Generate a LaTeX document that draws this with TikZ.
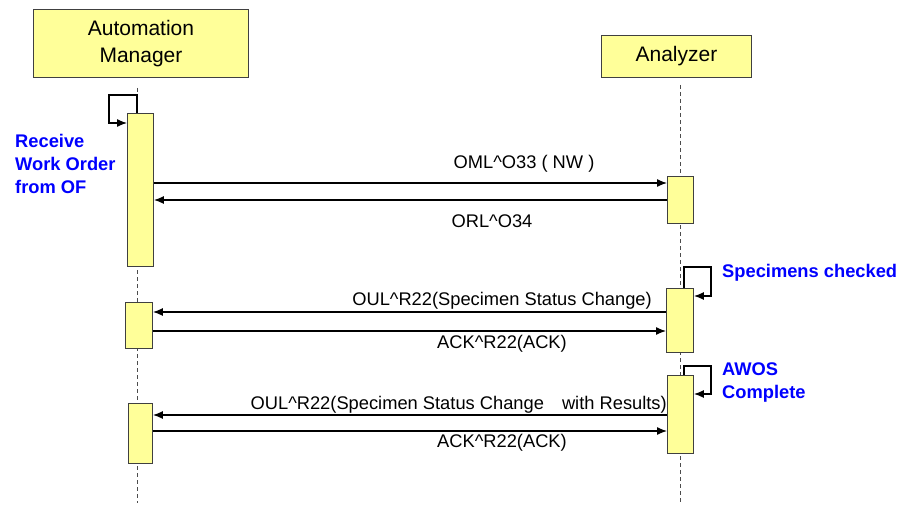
\documentclass[tikz,border=0pt]{standalone}
\usepackage{fontspec}
\setmainfont{Liberation Sans}
\usetikzlibrary{arrows.meta}
\definecolor{barfill}{HTML}{FFFF99}
\definecolor{barline}{HTML}{404040}
\definecolor{notecol}{HTML}{0000FF}
\begin{document}
\begin{tikzpicture}[x=1pt,y=-1pt,
  actor/.style={draw=barline,fill=barfill,line width=0.9pt,inner sep=0pt,anchor=north west,
    font=\fontsize{21}{27}\selectfont,align=center},
  bar/.style={draw=barline,fill=barfill,line width=0.9pt,inner sep=0pt,anchor=north west},
  lifeline/.style={draw=black!70,line width=0.8pt,dash pattern=on 4pt off 3pt},
  msg/.style={line width=1.3pt,-{Latex[length=10pt,width=8pt]}},
  msgtext/.style={font=\fontsize{18.3}{20}\selectfont,inner sep=0pt},
  note/.style={font=\fontsize{18.3}{23}\selectfont\bfseries,text=notecol,align=left,
    inner sep=0pt,anchor=west}]
\useasboundingbox (0,0) rectangle (901,508);

% participants
\node[actor,minimum width=215pt,minimum height=68pt] (am) at (33,9) {Automation\\Manager};
\node[actor,minimum width=150pt,minimum height=42pt] (an) at (601,35) {Analyzer};

% lifelines
\coordinate (amL) at (137,88);
\coordinate (amE) at (137,503);
\coordinate (anL) at (680,85);
\coordinate (anE) at (680,503);
\draw[lifeline] (amL) -- (amE);
\draw[lifeline] (anL) -- (anE);

% activation bars
\node[bar,minimum width=26pt,minimum height=153pt] (am1) at (127,113) {};
\node[bar,minimum width=27pt,minimum height=46pt] (am2) at (125,302) {};
\node[bar,minimum width=24pt,minimum height=60pt] (am3) at (128,403) {};
\node[bar,minimum width=26pt,minimum height=47pt] (an1) at (667,176) {};
\node[bar,minimum width=27pt,minimum height=64pt] (an2) at (666,288) {};
\node[bar,minimum width=26pt,minimum height=78pt] (an3) at (667,375) {};

% message levels
\coordinate (y1) at (0,183);
\coordinate (y2) at (0,200);
\coordinate (y3) at (0,312);
\coordinate (y4) at (0,331);
\coordinate (y5) at (0,415);
\coordinate (y6) at (0,431);

% self calls
\coordinate (s1) at (109,95);
\coordinate (s1e) at (0,123);
\draw[msg] (am1.north -| amL) |- (s1) |- (am1.west |- s1e);
\coordinate (s2) at (711,267);
\coordinate (s2e) at (0,296);
\coordinate (anX) at (684,0);
\draw[msg] (an2.north -| anX) |- (s2) |- (an2.east |- s2e);
\coordinate (s3) at (711,366);
\coordinate (s3e) at (0,394);
\draw[msg] (an3.north -| anX) |- (s3) |- (an3.east |- s3e);

% messages
\draw[msg] (am1.east |- y1) -- (an1.west |- y1);
\draw[msg] (an1.west |- y2) -- (am1.east |- y2);
\draw[msg] (an2.west |- y3) -- (am2.east |- y3);
\draw[msg] (am2.east |- y4) -- (an2.west |- y4);
\draw[msg] (an3.west |- y5) -- (am3.east |- y5);
\draw[msg] (am3.east |- y6) -- (an3.west |- y6);

% message labels
\node[msgtext] (l1) at (524,164) {OML\textasciicircum O33 ( NW )};
\node[msgtext] (l2) at (492,221) {ORL\textasciicircum O34};
\node[msgtext,anchor=east] (l3) at (652,301) {OUL\textasciicircum R22(Specimen Status Change)};
\node[msgtext] (l4) at (502,344) {ACK\textasciicircum R22(ACK)};
\node[msgtext,anchor=east] (l5) at (667,405) {OUL\textasciicircum R22(Specimen Status Change\hspace{18pt}with Results)};
\node[msgtext] (l6) at (502,443) {ACK\textasciicircum R22(ACK)};

% notes
\node[note] (n1) at (15,164) {Receive\\Work Order\\from OF};
\node[note] (n2) at (722,273) {Specimens checked};
\node[note] (n3) at (722,382.5) {AWOS\\Complete};
\end{tikzpicture}
\end{document}
